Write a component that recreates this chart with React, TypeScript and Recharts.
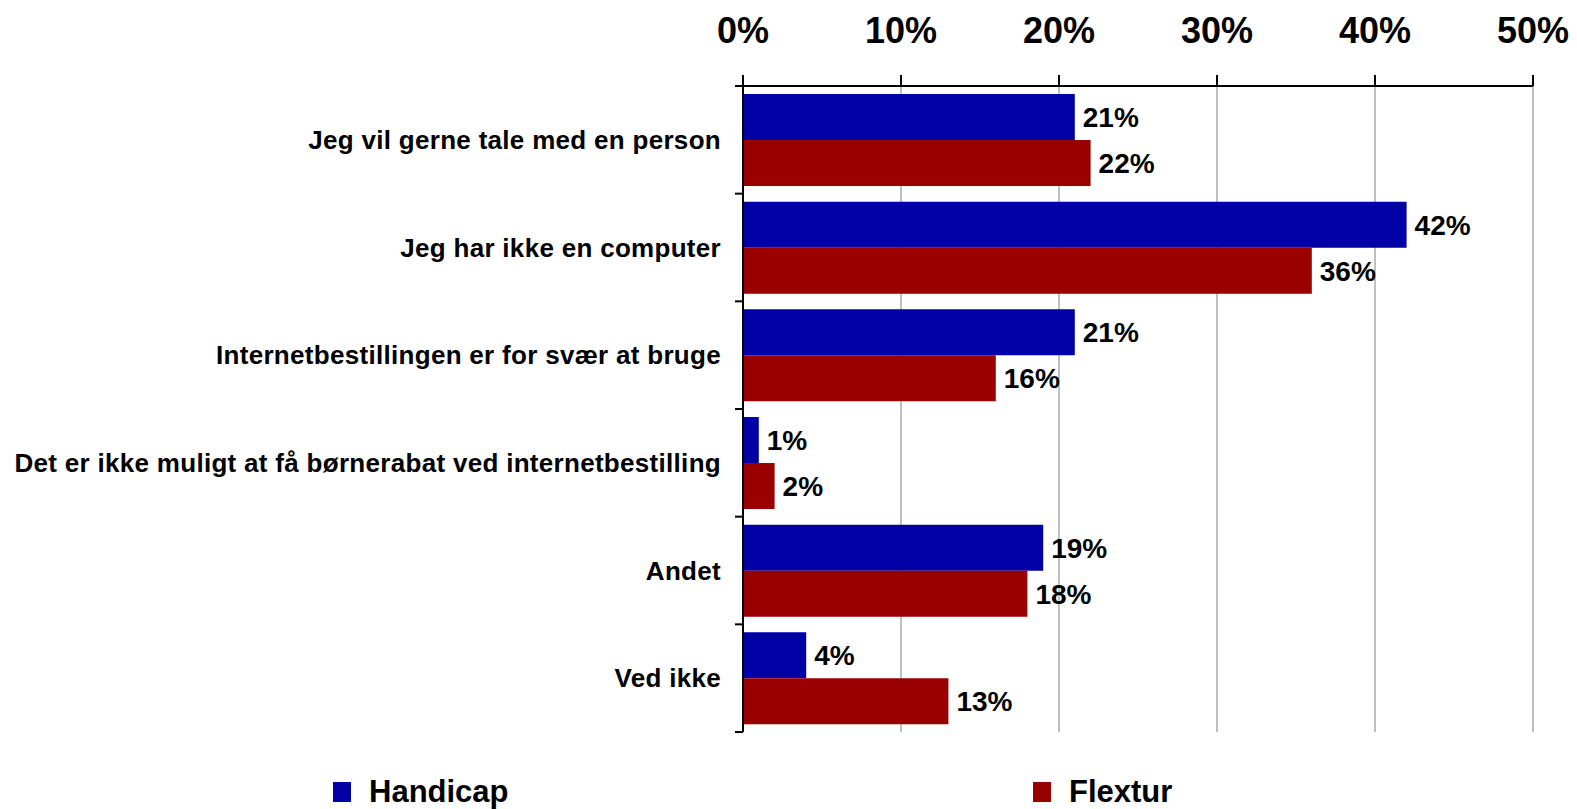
import React from "react";
import {
  BarChart,
  Bar,
  XAxis,
  YAxis,
  CartesianGrid,
  Legend,
  LabelList,
} from "recharts";

const categories = [
  "Jeg vil gerne tale med en person",
  "Jeg har ikke en computer",
  "Internetbestillingen er for svær at bruge",
  "Det er ikke muligt at få børnerabat ved internetbestilling",
  "Andet",
  "Ved ikke",
];
const handicap = [21, 42, 21, 1, 19, 4];
const flextur = [22, 36, 16, 2, 18, 13];
const xTicks = [0, 10, 20, 30, 40, 50];

const series = [
  { key: "handicap", name: "Handicap", color: "#0000a6" },
  { key: "flextur", name: "Flextur", color: "#990000" },
];

const data = categories.map((label, i) => ({
  label,
  handicap: handicap[i],
  flextur: flextur[i],
}));

const FONT = "'Liberation Sans', Arial, sans-serif";

// category label plus the little tick marks that sit between the bands
function CategoryTick(props: any) {
  const { x, y, payload, index, visibleTicksCount } = props;
  const half = payload?.offset ?? 53.8;
  const axisX = x + 22;
  const isLast = index === visibleTicksCount - 1;
  return (
    <g>
      <line x1={axisX - 8} x2={axisX} y1={y - half} y2={y - half} stroke="#000" strokeWidth={2} />
      {isLast && (
        <line x1={axisX - 8} x2={axisX} y1={y + half} y2={y + half} stroke="#000" strokeWidth={2} />
      )}
      <text
        x={x}
        y={y}
        textAnchor="end"
        dominantBaseline="central"
        fontFamily={FONT}
        fontSize={26}
        fontWeight="bold"
        letterSpacing={0.3}
        fill="#000"
      >
        {payload.value}
      </text>
    </g>
  );
}

function LegendContent() {
  return (
    <div style={{ position: "relative", height: 50, width: 1577 }}>
      {series.map((s, i) => (
        <div
          key={s.key}
          style={{
            position: "absolute",
            left: 333 + i * 700,
            top: 0,
            height: 50,
            display: "flex",
            alignItems: "center",
            whiteSpace: "nowrap",
          }}
        >
          <span style={{ display: "inline-block", width: 18, height: 20, background: s.color }} />
          <span
            style={{
              marginLeft: 18,
              fontFamily: FONT,
              fontWeight: "bold",
              fontSize: 31,
              color: "#000",
            }}
          >
            {s.name}
          </span>
        </div>
      ))}
    </div>
  );
}

export default function App() {
  return (
    <div style={{ position: "absolute", left: 0, top: 0, background: "#fff" }}>
      <BarChart
        width={1577}
        height={809}
        data={data}
        layout="vertical"
        margin={{ top: 0, right: 44, bottom: 27, left: 0 }}
        barCategoryGap={8}
        barGap={0}
      >
        <CartesianGrid horizontal={false} stroke="#c0c0c0" strokeWidth={2} />
        <XAxis
          type="number"
          orientation="top"
          domain={[0, 50]}
          ticks={xTicks}
          tickFormatter={(v: number) => `${v}%`}
          height={86}
          tickSize={11}
          tickMargin={32}
          axisLine={{ stroke: "#000", strokeWidth: 2 }}
          tickLine={{ stroke: "#000", strokeWidth: 2 }}
          tick={{ fontFamily: FONT, fontSize: 36, fontWeight: "bold", fill: "#000" }}
        />
        <YAxis
          type="category"
          dataKey="label"
          width={743}
          tickLine={false}
          tickSize={0}
          tickMargin={22}
          axisLine={{ stroke: "#000", strokeWidth: 2 }}
          tick={<CategoryTick />}
          interval={0}
        />
        <Legend
          verticalAlign="bottom"
          content={<LegendContent />}
          wrapperStyle={{ left: 0, top: 767, bottom: "auto", width: 1577, height: 50 }}
        />
        {series.map((s) => (
          <Bar key={s.key} dataKey={s.key} name={s.name} fill={s.color} isAnimationActive={false}>
            <LabelList
              dataKey={s.key}
              position="right"
              offset={8}
              formatter={(v: any) => `${v}%`}
              style={{ fontFamily: FONT, fontSize: 28, fontWeight: "bold", fill: "#000" }}
            />
          </Bar>
        ))}
      </BarChart>
    </div>
  );
}
